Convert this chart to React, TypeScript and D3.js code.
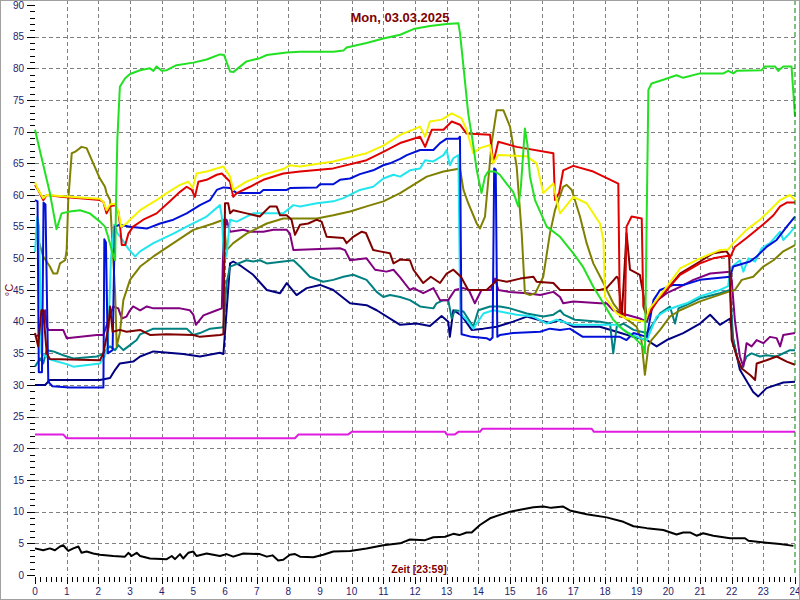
import React from "react";
import * as d3 from "d3";

type P = [number, number];

const hourTicks: number[] = d3.range(0, 25);
const valueTicks: number[] = d3.range(0, 95, 5);
const titleText = "Mon, 03.03.2025";
const xTitle = "Zeit [23:59]";
const yTitle = "°C";

const green: P[] = [[0,70.3],[0.47,60.3],[0.68,54.6],[0.84,57.1],[1.1,57.4],[1.42,57.6],[1.73,57.1],[2.05,55.8],[2.21,55],[2.31,53.4],[2.42,51.3],[2.53,49.7],[2.56,59],[2.6,68.7],[2.68,77.1],[2.84,78.4],[3.0,79.1],[3.32,79.7],[3.63,80.0],[3.74,79.6],[3.84,80.3],[4.0,79.6],[4.16,79.7],[4.47,80.5],[5.0,80.9],[5.42,81.4],[5.84,82.2],[5.97,82.1],[6.16,79.5],[6.26,79.4],[6.68,81.1],[7.1,81.6],[7.32,82.1],[7.95,82.5],[8.37,82.6],[9.42,82.6],[9.74,82.8],[9.84,83.3],[10.47,84.0],[11.0,84.7],[11.53,85.3],[11.95,86.2],[12.47,86.7],[13.0,87.0],[13.37,87.1],[13.42,85.6],[13.53,80.3],[13.68,72.9],[13.83,68.2],[13.95,63.9],[14.1,60.3],[14.21,62.9],[14.31,63.7],[14.53,63.7],[14.68,63.2],[14.89,61.8],[15.1,60.5],[15.26,58.2],[15.34,61],[15.47,70.5],[15.55,68],[15.63,62.9],[15.79,59.2],[16.16,55],[16.58,53.4],[17.0,50.8],[17.3,48.7],[17.63,45.5],[17.95,42.9],[18.26,40.3],[18.58,38.7],[18.9,37.6],[19.2,36.1],[19.26,35],[19.3,50],[19.37,76.6],[19.47,77.6],[19.84,78.2],[20.26,78.9],[20.47,78.5],[21.0,79.2],[21.74,79.2],[21.89,79.6],[22.05,79.2],[22.16,79.6],[22.95,79.7],[23.05,80.3],[23.37,80.3],[23.47,79.6],[23.63,80.3],[23.89,80.3],[23.95,76],[24,72.4]];

const yellow: P[] = [[0,62],[0.1,60.8],[0.26,59.5],[0.37,60],[0.89,59.8],[1.42,59.6],[2.05,59.4],[2.16,58.9],[2.26,57.6],[2.37,58.5],[2.53,58.6],[2.63,57.5],[2.72,55],[2.89,55.5],[3.0,56.1],[3.32,57.6],[3.74,58.9],[3.84,59.2],[4.16,60.3],[4.58,61.6],[4.84,62.1],[4.98,61.1],[5.1,63.4],[5.42,63.7],[5.95,64.5],[6.16,62.9],[6.26,60.8],[6.68,62.1],[7.21,63.2],[7.84,64.1],[8.05,64.7],[8.37,64.5],[9.42,65.3],[10.47,66.6],[11.0,67.8],[11.53,69.5],[12.16,70.8],[12.32,69.2],[12.47,71.6],[12.84,71.9],[13.16,72.9],[13.47,72.1],[13.63,70.3],[13.84,66.6],[14.05,67.4],[14.37,67.9],[14.47,65],[14.63,66.3],[15.53,66.1],[15.84,65],[16.05,60.3],[16.37,61.8],[16.47,59.2],[16.58,57.1],[17.0,59.7],[17.42,58.7],[17.84,55.5],[17.95,52.9],[18.0,43.9],[18.37,41.3],[18.68,40.5],[19.26,40],[19.4,42],[19.95,45.5],[20.37,48.4],[21.0,50],[21.63,51.3],[21.89,51.4],[22.05,52.4],[22.47,54.5],[22.89,56.1],[23.21,57.6],[23.53,59.2],[23.84,60],[24,59.2]];

const red: P[] = [[0,61.6],[0.1,60.8],[0.26,59.2],[0.37,60],[0.89,59.7],[1.42,59.5],[2.05,59.2],[2.16,58.9],[2.26,57.1],[2.37,58.2],[2.53,58.4],[2.63,57.4],[2.68,55.5],[2.74,52.1],[2.85,52.1],[2.95,53.9],[3.1,55],[3.42,56.1],[3.84,57.1],[4.26,59],[4.58,60.5],[4.79,61.3],[4.95,60.8],[5.05,59.7],[5.16,62.1],[5.42,62.4],[5.74,63.2],[5.9,63.4],[6.16,62.1],[6.26,59.7],[6.37,60.3],[6.79,61.3],[7.21,62.4],[7.84,63.4],[8.37,63.7],[9.42,64.2],[10.47,65.5],[11.0,66.8],[11.53,68.2],[12.16,69.2],[12.32,67.6],[12.53,70.3],[12.9,70.3],[13.16,71.6],[13.42,71.1],[13.63,69.7],[14.37,69.5],[14.47,65],[14.63,68.4],[15.21,67.6],[16.37,66.6],[16.42,59.2],[16.55,60.3],[16.68,63.9],[17.0,64.6],[17.63,63.7],[18.42,61.8],[18.47,40.8],[18.63,40.8],[18.68,55],[18.84,56.6],[19.16,56.3],[19.21,42.4],[19.32,40.8],[19.74,43.9],[20.37,47.4],[21.0,49.2],[21.42,50],[21.89,50.4],[21.95,50.1],[22.1,51.8],[22.47,53.2],[22.79,54.5],[23.1,55.8],[23.32,56.8],[23.53,58.2],[23.74,58.8],[24,58.8]];

const blue: P[] = [[0,59.2],[0.08,59],[0.12,32],[0.22,32],[0.27,58.8],[0.33,58.5],[0.42,30.5],[0.55,29.8],[1.1,29.6],[2.16,29.6],[2.19,53],[2.24,52.5],[2.3,35],[2.45,35.5],[2.52,55],[2.68,55.3],[3.0,55],[3.53,54.7],[3.95,55.5],[4.37,56.1],[4.79,57.1],[5.21,58.4],[5.53,59.2],[5.74,60.8],[5.95,61.2],[6.16,61.1],[6.37,60.3],[7.1,60.3],[7.21,60.8],[7.95,60.8],[8.05,61.1],[8.9,61.2],[9.0,61.7],[9.42,61.7],[9.63,62.4],[9.95,62.6],[10.26,63.3],[10.68,63.9],[11.0,64.7],[11.21,65],[11.53,65.7],[11.74,66.3],[12.16,67.1],[12.58,67.1],[12.79,68.2],[13.0,68.9],[13.37,68.9],[13.42,69.2],[13.47,38],[13.79,37.6],[14.26,37.4],[14.37,37.1],[14.45,37.5],[14.5,64.2],[14.55,64],[14.6,37.6],[14.68,37.9],[15.1,38.2],[15.95,38.4],[16.26,38.9],[16.58,38.7],[16.89,38.9],[17.3,37.6],[18.16,37.6],[18.47,37.6],[18.68,37.1],[18.9,38.2],[19.32,37.6],[19.53,43.4],[19.74,45],[20.16,45.8],[20.47,45.8],[21.0,46.6],[21.95,47.1],[22.05,48.7],[22.58,49.5],[22.79,50.3],[23.1,51.8],[23.42,52.9],[23.74,55],[24,56.6]];

const cyan: P[] = [[0,51],[0.07,56.5],[0.13,55],[0.2,35],[0.5,34],[1.0,33.3],[1.21,32.9],[2.05,33.4],[2.2,34.5],[2.3,36],[2.4,50],[2.5,55.3],[2.6,54],[2.75,53],[2.95,51.5],[3.16,50.3],[3.32,51.1],[3.74,52.4],[4.37,53.9],[4.79,55],[5.42,56.6],[5.84,58.4],[5.9,56.6],[5.97,49.7],[6.05,50.5],[6.16,56.1],[6.37,55.8],[6.89,57.1],[7.84,57.1],[8.16,58.4],[8.37,58.2],[8.9,58.7],[9.42,59],[9.74,59.5],[10.26,60.8],[10.68,61.3],[11.0,62.6],[11.32,63.2],[11.53,62.9],[11.84,63.9],[12.16,64.2],[12.32,65.5],[12.58,65.3],[12.9,66.3],[13.0,67.1],[13.1,64.7],[13.21,65.8],[13.37,66.3],[13.43,41.3],[13.63,40.3],[13.84,38.9],[14.16,41.3],[14.47,41.8],[14.68,41.6],[15.21,41.1],[15.74,40.8],[16.16,39.7],[16.47,40.3],[17.0,39.5],[17.84,39.5],[18.37,39.5],[18.68,38.4],[19.1,37.4],[19.32,37.1],[19.63,40.8],[19.95,41.8],[20.26,42.4],[20.58,42.9],[21.0,44],[21.63,45],[21.89,45.6],[21.95,48.4],[22.26,49.7],[22.37,47.9],[22.53,50],[22.74,49.5],[22.95,51.6],[23.21,52.4],[23.53,54.2],[23.63,52.9],[23.84,54],[24,55]];

const olive: P[] = [[0,54],[0.1,53],[0.26,50.3],[0.47,48.7],[0.58,47.6],[0.7,47.6],[0.79,49.2],[0.95,49.7],[1.0,51.3],[1.05,59.2],[1.16,66.6],[1.26,66.8],[1.47,67.6],[1.63,67.4],[1.84,65],[2.05,62.6],[2.21,61.3],[2.26,60.3],[2.37,59.2],[2.53,44.5],[2.58,36.1],[2.68,38.2],[2.79,43.4],[3.0,46.6],[3.32,48.7],[3.74,50.3],[4.37,52.4],[5.0,54.5],[5.63,55.5],[5.95,56.1],[6.05,51.3],[6.26,52.4],[6.68,53.9],[7.32,55.5],[7.84,56.3],[8.9,56.3],[9.42,56.8],[9.95,57.4],[10.47,58.2],[11.0,59],[11.53,60.3],[11.95,61.6],[12.37,62.9],[12.9,63.7],[13.42,64.2],[13.53,60.8],[13.68,58.7],[13.95,55.5],[14.05,54.7],[14.21,56.6],[14.42,68.2],[14.58,73.4],[14.79,73.4],[15.0,70.8],[15.21,64.5],[15.37,53.9],[15.47,44.5],[15.63,44.2],[15.8,44.5],[16.05,47.1],[16.26,53.9],[16.42,57.6],[16.68,61.3],[16.79,61.6],[16.95,60.8],[17.21,56.6],[17.42,52.4],[17.63,49.2],[17.95,46.1],[18.26,42.9],[18.58,40.8],[19.0,39.2],[19.15,37.1],[19.26,31.6],[19.37,36.1],[19.47,37.1],[19.74,38.7],[20.05,40.8],[20.37,41.8],[21.0,43.2],[21.89,44.7],[22.1,45],[22.32,46.6],[22.68,47.1],[23.0,48.7],[23.32,49.7],[23.63,51.1],[24,52.1]];

const maroon: P[] = [[0,38.2],[0.1,36.1],[0.2,41.8],[0.26,41.8],[0.37,35],[0.47,34.1],[2.05,33.9],[2.16,35],[2.32,39.2],[2.37,42.4],[2.45,38.4],[2.68,38.7],[2.89,38.4],[3.32,38.7],[3.63,37.9],[4.16,38.0],[5.0,37.9],[5.21,37.6],[5.84,37.9],[5.95,38],[6.0,58.7],[6.1,58.7],[6.16,57.1],[6.26,57.6],[6.68,57.1],[7.1,56.6],[7.42,58.2],[7.63,58.2],[7.74,56.8],[7.95,56.8],[8.1,56.1],[8.21,53.7],[8.37,55.3],[8.63,55.5],[8.9,56.1],[9.05,55.8],[9.21,53.4],[9.74,53.2],[9.84,52.4],[10.05,53.4],[10.32,54.2],[10.45,54],[10.68,51.3],[10.89,51.1],[11.21,50.8],[11.32,49.2],[11.53,49.8],[11.84,49.7],[11.95,48.2],[12.26,46.1],[12.5,47.1],[12.79,46.1],[13.0,47.6],[13.21,48.2],[13.45,47.1],[13.68,45],[14.26,45],[14.6,46.6],[14.9,46.3],[15.32,46.8],[15.74,47.1],[15.84,46.3],[16.37,46.1],[16.58,45],[17.84,45],[18.05,45.3],[18.37,47.1],[18.42,46.8],[18.53,40.8],[18.68,54],[18.79,48.2],[19.1,47.4],[19.26,42.9],[19.32,40.8],[19.6,43],[19.95,45],[20.37,47.6],[21.0,49.5],[21.42,50.8],[21.84,51.1],[21.92,50.5],[22.0,37.1],[22.16,34.5],[22.32,32.6],[22.6,31.5],[22.74,30.8],[22.79,33.4],[23.1,33.9],[23.42,34.5],[23.74,33.7],[24,33.2]];

const purple: P[] = [[0,37.6],[0.16,38],[0.32,41.8],[0.37,39.2],[0.42,38.7],[0.89,38.7],[1.0,37.4],[1.95,37.9],[2.16,37.9],[2.32,40.3],[2.47,42.4],[2.63,42.1],[2.74,40.5],[2.89,40.8],[3.0,41.8],[3.1,42.4],[3.32,41.8],[3.53,42.4],[3.74,42.1],[4.58,42.1],[4.89,41.8],[5.0,41.1],[5.08,39.5],[5.32,41],[5.74,41.8],[5.9,42.1],[5.95,53.4],[6.05,56.1],[6.16,54.2],[6.58,54.5],[6.79,54.2],[7.21,54.2],[7.53,54.5],[7.95,54.5],[8.05,53.9],[8.16,51.3],[9.63,51.6],[9.79,51.3],[9.95,49.7],[10.47,50],[10.74,48.2],[11.1,47.9],[11.32,48.2],[11.53,47],[11.84,45],[11.95,45.3],[12.26,44.5],[12.58,45.3],[12.79,43.4],[13.05,43.4],[13.26,45],[13.53,45.3],[13.7,45],[13.89,42.9],[14.1,45],[14.4,45],[14.53,46.8],[14.63,45],[15.0,44.7],[15.53,44.5],[15.95,44.2],[16.37,44.7],[16.58,43.9],[16.68,42.9],[17.0,43.2],[17.84,42.9],[18.05,42.9],[18.26,41.8],[18.68,41.1],[19.1,40.5],[19.32,40],[19.53,42.9],[19.95,44.5],[20.37,45.5],[20.79,46.6],[21.32,47.6],[21.95,47.9],[22.0,46.6],[22.1,40.3],[22.26,34.5],[22.37,32.9],[22.47,36.6],[22.63,36.1],[22.79,37.1],[23.0,36.6],[23.21,37.6],[23.42,37.4],[23.53,36.1],[23.63,37.9],[24,38.2]];

const teal: P[] = [[0,32.9],[0.16,34.2],[0.26,33.4],[0.37,35.5],[0.58,35.3],[0.89,34.7],[1.21,34.2],[1.95,34.5],[2.1,34.8],[2.37,36.1],[2.53,35.5],[2.63,36.3],[2.79,35.5],[3.0,36.3],[3.21,37.1],[3.32,38],[3.74,38.9],[4.79,38.9],[5.0,37.9],[5.21,38.2],[5.53,38.9],[5.95,39.1],[6.05,46.1],[6.16,48.7],[6.68,49.7],[6.89,49.5],[7.1,49.7],[7.32,49.2],[7.84,49.5],[8.16,49.7],[8.37,48.7],[8.68,47.1],[9.1,46.3],[9.42,46.6],[9.74,47.1],[10.05,47.4],[10.47,46.6],[10.79,44.7],[11.0,43.9],[11.21,44.2],[11.53,43.9],[11.84,43.4],[12.16,42.4],[12.58,42.1],[12.68,42.9],[12.9,43.4],[13.05,43.4],[13.16,40.5],[13.26,41.8],[13.53,41.6],[13.84,39.2],[14.0,41.8],[14.37,42.4],[14.68,42.4],[15.0,42.1],[15.53,41.3],[16.05,40.8],[16.37,41.1],[16.58,41.8],[16.7,41.1],[17.05,40.3],[17.84,40],[18.16,39.7],[18.26,35],[18.37,39.2],[18.58,39.7],[18.9,38.7],[19.32,38.2],[19.74,41.3],[20.05,42.4],[20.21,39.7],[20.32,42.1],[20.68,42.9],[21.0,43.7],[21.63,44.5],[21.95,45],[22.05,37.1],[22.2,33.9],[22.32,32.6],[22.47,34.5],[22.63,35],[22.89,34.5],[23.1,34.7],[23.42,34.5],[23.84,35.5],[24,35.5]];

const navy: P[] = [[0,30],[0.32,30],[0.47,30.8],[2.05,30.8],[2.37,31.1],[2.53,32.4],[2.68,33.4],[3.1,33.7],[3.32,34.5],[3.74,35.3],[4.68,34.9],[5.21,34.5],[5.84,35.1],[5.95,34.9],[6.16,49.2],[6.26,49.5],[6.47,48.9],[6.89,47.4],[7.32,45],[7.74,44.5],[7.95,46.1],[8.26,44.2],[8.58,45.3],[9.0,45.8],[9.42,45],[9.95,42.9],[10.47,42.6],[10.79,41.8],[11.53,39.5],[12.05,39.7],[12.47,39.3],[12.84,40.9],[13.05,40],[13.1,37.6],[13.21,41.8],[13.47,41],[13.79,38.7],[14.16,38.9],[14.58,39.2],[15.1,40],[15.53,40.8],[15.95,40.2],[16.26,39.8],[16.58,40.3],[17.0,39.2],[17.84,39.2],[18.37,38.4],[18.9,37.6],[19.32,37.1],[19.63,36.1],[19.95,37.1],[20.47,38.2],[21.0,39.7],[21.32,41.1],[21.63,39.5],[21.95,40.5],[22.05,37.1],[22.26,32.4],[22.68,28.9],[22.84,28.2],[23.1,29.5],[23.63,30.4],[24,30.5]];

const magenta: P[] = [[0,22.2],[0.89,22.2],[1.0,21.6],[8.21,21.6],[8.32,22.2],[9.89,22.2],[10.0,22.6],[12.95,22.6],[13.0,22.2],[13.26,22.2],[13.37,22.6],[14.05,22.6],[14.13,23.1],[17.58,23.1],[17.65,22.6],[24,22.6]];

const black: P[] = [[0,4.2],[0.26,3.9],[0.47,4.2],[0.63,3.9],[0.79,4.5],[0.89,4.7],[1.05,3.8],[1.21,4.2],[1.37,4.5],[1.47,3.5],[1.63,3.7],[1.84,3.4],[2.05,3.2],[2.47,3.0],[2.84,2.9],[2.95,3.5],[3.05,3.0],[3.21,3.5],[3.32,3.0],[3.63,2.6],[4.16,2.5],[4.32,3.0],[4.42,2.5],[4.58,3.3],[4.68,2.6],[4.84,3.5],[5.0,3.7],[5.1,3.0],[5.42,3.4],[5.63,3.2],[5.84,3.0],[6.05,3.3],[6.26,2.9],[6.58,3.4],[7.1,3.3],[7.32,2.9],[7.5,3.1],[7.68,2.3],[7.84,2.4],[8.05,3.2],[8.21,3.3],[8.37,2.9],[8.79,2.8],[9.1,3.2],[9.42,3.7],[9.95,3.8],[10.47,4.2],[11.0,4.7],[11.53,5.0],[11.84,5.6],[12.32,5.5],[12.58,5.95],[12.95,6.05],[13.21,6.5],[13.4,6.3],[13.63,6.7],[13.79,6.7],[14.05,7.9],[14.37,8.95],[14.68,9.5],[15.0,10.0],[15.32,10.3],[15.74,10.7],[16.05,10.8],[16.3,10.6],[16.68,10.8],[16.89,10.2],[17.42,9.6],[18.05,9.1],[18.58,8.4],[18.9,7.7],[19.32,7.4],[19.84,7.1],[20.26,6.4],[20.47,6.7],[20.7,6.7],[20.89,6.2],[21.1,6.6],[21.42,6.2],[21.95,5.8],[22.42,5.8],[22.53,5.4],[23.1,5.1],[23.53,4.9],[23.95,4.6]];

const seriesList: { data: P[]; color: string }[] = [
  { data: black, color: "#000000" },
  { data: magenta, color: "#e01ce0" },
  { data: navy, color: "#000080" },
  { data: teal, color: "#008080" },
  { data: purple, color: "#800080" },
  { data: olive, color: "#808000" },
  { data: cyan, color: "#22e6ee" },
  { data: blue, color: "#0010d8" },
  { data: maroon, color: "#800000" },
  { data: red, color: "#e00000" },
  { data: yellow, color: "#f4f400" },
  { data: green, color: "#22e022" },
];

export default function App() {
  const W = 800, H = 600;
  const x = d3.scaleLinear().domain([0, 24]).range([35, 795]);
  const y = d3.scaleLinear().domain([0, 90]).range([575, 5]);
  const line = d3.line<P>().x((d) => x(d[0])).y((d) => y(d[1]));
  const font = "'Liberation Sans', Arial, sans-serif";
  const tickColor = "#1e1e6e";
  const minorY = d3.range(0, 91, 1);
  const minorX = d3.range(0, 24 * 6 + 1).map((i) => i / 6);

  return (
    <svg width={W} height={H} style={{ position: "absolute", left: 0, top: 0, background: "#fff" }} fontFamily={font}>
      <rect x={0} y={0} width={W} height={H} fill="#ffffff" />
      {hourTicks.filter((h) => h > 0 && h < 24).map((h) => (
        <line key={"gx" + h} x1={Math.round(x(h)) + 0.5} x2={Math.round(x(h)) + 0.5} y1={0} y2={575} stroke="#808080" strokeWidth={1} strokeDasharray="4,3" />
      ))}
      {valueTicks.filter((v) => v > 0 && v < 90).map((v) => (
        <line key={"gy" + v} x1={35} x2={795} y1={Math.round(y(v)) + 0.5} y2={Math.round(y(v)) + 0.5} stroke="#808080" strokeWidth={1} strokeDasharray="4,3" />
      ))}
      {minorY.map((v) => (
        <line key={"ty" + v} x1={v % 5 === 0 ? 27 : 30} x2={35} y1={Math.round(y(v)) + 0.5} y2={Math.round(y(v)) + 0.5} stroke="#000" strokeWidth={1} />
      ))}
      {valueTicks.map((v) => (
        <text key={"ly" + v} x={24} y={y(v)} dy="0.35em" textAnchor="end" fontSize={10} fill={tickColor}>{v}</text>
      ))}
      {minorX.map((h, i) => (
        <line key={"tx" + i} x1={Math.round(x(h)) + 0.5} x2={Math.round(x(h)) + 0.5} y1={577} y2={i % 6 === 0 ? 584 : 582} stroke="#000" strokeWidth={1} />
      ))}
      {hourTicks.map((h) => (
        <text key={"lx" + h} x={x(h)} y={595} textAnchor="middle" fontSize={10} fill={tickColor}>{h}</text>
      ))}
      {seriesList.map((s, i) => (
        <path key={"s" + i} d={line(s.data) || ""} fill="none" stroke={s.color} strokeWidth={2} strokeLinejoin="round" />
      ))}
      <line x1={x(24)} x2={x(24)} y1={0} y2={575} stroke="#008000" strokeWidth={1} strokeDasharray="5,3" />
      <text x={400} y={22} textAnchor="middle" fontSize={13} fontWeight="bold" fill="#800000">{titleText}</text>
      <text x={419} y={573} textAnchor="middle" fontSize={10.5} fontWeight="bold" fill="#800000">{xTitle}</text>
      <text transform="translate(13,290) rotate(-90)" textAnchor="middle" fontSize={11} fill="#800000">{yTitle}</text>
      <rect x={0.5} y={0.5} width={W - 1} height={H - 1} fill="none" stroke="#a0a0a0" strokeWidth={1} />
    </svg>
  );
}
